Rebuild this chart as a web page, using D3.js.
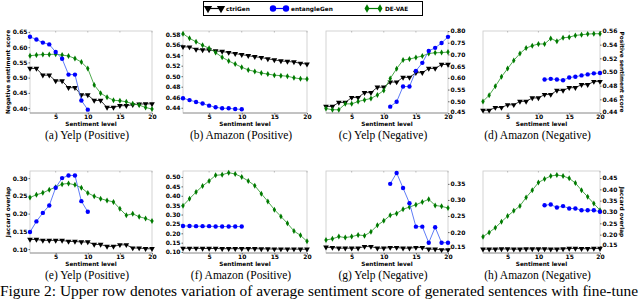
<!DOCTYPE html>
<html>
<head>
<meta charset="utf-8">
<script src="https://cdn.jsdelivr.net/npm/d3@7"></script>
<style>
body { margin: 0; background: #fff; }
svg { display: block; }
.tk text { font-family: "DejaVu Sans", sans-serif; font-weight: bold; font-size: 6px; fill: #000; }
.lab { font-family: "DejaVu Sans", sans-serif; font-weight: bold; font-size: 5.8px; }
.cap { font-family: "Liberation Serif", serif; }
</style>
</head>
<body>
<div id="chart"></div>
<script>
// sentiment levels on the x axis
var levels = [1, 2, 3, 4, 5, 6, 7, 8, 9, 10, 11, 12, 13, 14, 15, 16, 17, 18, 19, 20];
var lowLevels = [1, 2, 3, 4, 5, 6, 7, 8, 9, 10];
var highLevels = [11, 12, 13, 14, 15, 16, 17, 18, 19, 20];
var xTicks = [5, 10, 15, 20];

// (a) Yelp (Positive) - negative sentiment score
var aCtrl = [0.530, 0.530, 0.508, 0.508, 0.489, 0.489, 0.467, 0.467, 0.443, 0.443, 0.425, 0.425, 0.402, 0.402, 0.408, 0.408, 0.411, 0.413, 0.414, 0.414];
var aEnt = [0.634, 0.625, 0.615, 0.609, 0.584, 0.562, 0.510, 0.510, 0.425, 0.395];
var aVae = [0.572, 0.574, 0.576, 0.576, 0.577, 0.574, 0.571, 0.563, 0.551, 0.530, 0.476, 0.449, 0.436, 0.426, 0.424, 0.421, 0.414, 0.410, 0.402, 0.397];
// (b) Amazon (Positive)
var bCtrl = [0.556, 0.5555, 0.551, 0.550, 0.550, 0.548, 0.547, 0.545, 0.543, 0.541, 0.539, 0.537, 0.5355, 0.533, 0.531, 0.529, 0.528, 0.527, 0.5245, 0.523];
var bEnt = [0.458, 0.4545, 0.451, 0.448, 0.444, 0.441, 0.439, 0.439, 0.4375, 0.437];
var bVae = [0.581, 0.572, 0.5655, 0.559, 0.553, 0.545, 0.536, 0.529, 0.523, 0.517, 0.512, 0.509, 0.506, 0.504, 0.502, 0.501, 0.500, 0.497, 0.495, 0.4945];
// (c) Yelp (Negative) - positive sentiment score
var cCtrl = [0.478, 0.478, 0.495, 0.495, 0.516, 0.516, 0.537, 0.537, 0.560, 0.560, 0.582, 0.582, 0.602, 0.602, 0.622, 0.622, 0.640, 0.640, 0.657, 0.657];
var cEnt = [0.477, 0.498, 0.563, 0.563, 0.630, 0.664, 0.715, 0.728, 0.749, 0.775];
var cVae = [0.469, 0.464, 0.464, 0.489, 0.489, 0.499, 0.506, 0.512, 0.527, 0.546, 0.597, 0.639, 0.676, 0.680, 0.687, 0.693, 0.704, 0.707, 0.708, 0.710];
// (d) Amazon (Negative)
var dCtrl = [0.444, 0.444, 0.448, 0.448, 0.452, 0.452, 0.457, 0.457, 0.462, 0.462, 0.467, 0.467, 0.473, 0.473, 0.477, 0.477, 0.4815, 0.4815, 0.486, 0.486];
var dEnt = [0.489, 0.490, 0.489, 0.488, 0.492, 0.493, 0.495, 0.4965, 0.498, 0.4985];
var dVae = [0.457, 0.466, 0.479, 0.493, 0.505, 0.517, 0.527, 0.535, 0.5385, 0.541, 0.541, 0.549, 0.545, 0.550, 0.551, 0.5535, 0.5545, 0.5555, 0.556, 0.556];
// (e) Yelp (Positive) - jaccard overlap
var eCtrl = [0.127, 0.127, 0.1245, 0.1245, 0.1245, 0.1245, 0.1215, 0.1215, 0.120, 0.120, 0.113, 0.113, 0.1075, 0.1075, 0.112, 0.112, 0.103, 0.103, 0.101, 0.101];
var eEnt = [0.148, 0.178, 0.202, 0.223, 0.273, 0.300, 0.3075, 0.3075, 0.235, 0.205];
var eVae = [0.2455, 0.253, 0.2585, 0.267, 0.2745, 0.283, 0.285, 0.281, 0.273, 0.258, 0.249, 0.242, 0.237, 0.233, 0.2135, 0.195, 0.1995, 0.191, 0.1865, 0.179];
// (f) Amazon (Positive)
var fCtrl = [0.120, 0.120, 0.120, 0.119, 0.119, 0.119, 0.118, 0.118, 0.118, 0.118, 0.118, 0.118, 0.117, 0.117, 0.116, 0.116, 0.116, 0.116, 0.115, 0.115];
var fEnt = [0.239, 0.239, 0.238, 0.238, 0.238, 0.236, 0.236, 0.236, 0.236, 0.236];
var fVae = [0.347, 0.384, 0.420, 0.452, 0.479, 0.509, 0.512, 0.523, 0.516, 0.500, 0.479, 0.454, 0.411, 0.370, 0.326, 0.290, 0.253, 0.212, 0.189, 0.157];
// (g) Yelp (Negative)
var gCtrl = [0.153, 0.152, 0.150, 0.150, 0.150, 0.150, 0.155, 0.155, 0.150, 0.150, 0.152, 0.152, 0.150, 0.150, 0.152, 0.152, 0.147, 0.147, 0.145, 0.145];
var gEnt = [0.350, 0.384, 0.337, 0.290, 0.217, 0.217, 0.167, 0.215, 0.167, 0.167];
var gVae = [0.1755, 0.179, 0.186, 0.183, 0.186, 0.191, 0.189, 0.201, 0.221, 0.235, 0.2525, 0.258, 0.271, 0.278, 0.285, 0.2935, 0.302, 0.283, 0.280, 0.275];
// (h) Amazon (Negative)
var hCtrl = [0.136, 0.136, 0.136, 0.137, 0.137, 0.136, 0.136, 0.137, 0.137, 0.137, 0.137, 0.136, 0.136, 0.137, 0.139, 0.139, 0.138, 0.138, 0.139, 0.139];
var hEnt = [0.330, 0.333, 0.320, 0.326, 0.3155, 0.3155, 0.308, 0.308, 0.308, 0.301];
var hVae = [0.191, 0.210, 0.2305, 0.257, 0.282, 0.305, 0.327, 0.364, 0.396, 0.430, 0.4455, 0.459, 0.463, 0.459, 0.4485, 0.428, 0.396, 0.367, 0.337, 0.308];

var seriesNames = ["ctriGen", "entangleGen", "DE-VAE"];
var captions = ["(a) Yelp (Positive)", "(b) Amazon (Positive)", "(c) Yelp (Negative)", "(d) Amazon (Negative)",
                "(e) Yelp (Positive)", "(f) Amazon (Positive)", "(g) Yelp (Negative)", "(h) Amazon (Negative)"];
var figCaption = "Figure 2: Upper row denotes variation of average sentiment score of generated sentences with fine-tune";

var W = 640, H = 299;
var cols = [[30, 152], [183, 307], [326, 448], [483, 600]];
var rows = [[31, 113], [171, 253]];

var panels = [
    {col: 0, row: 0, dom: [0.384, 0.653], ticks: [0.40, 0.45, 0.50, 0.55, 0.60, 0.65], side: "left", ylabel: "Negative sentiment score", ctrl: aCtrl, ent: aEnt, entX: lowLevels, vae: aVae},
    {col: 1, row: 0, dom: [0.430, 0.586], ticks: [0.44, 0.46, 0.48, 0.50, 0.52, 0.54, 0.56, 0.58], side: "left", ctrl: bCtrl, ent: bEnt, entX: lowLevels, vae: bVae},
    {col: 2, row: 0, dom: [0.45, 0.80], ticks: [0.45, 0.50, 0.55, 0.60, 0.65, 0.70, 0.75, 0.80], side: "right", ctrl: cCtrl, ent: cEnt, entX: highLevels, vae: cVae},
    {col: 3, row: 0, dom: [0.44, 0.56], ticks: [0.44, 0.46, 0.48, 0.50, 0.52, 0.54, 0.56], side: "right", ylabel: "Positive sentiment score", ctrl: dCtrl, ent: dEnt, entX: highLevels, vae: dVae},
    {col: 0, row: 1, dom: [0.089, 0.32], ticks: [0.10, 0.15, 0.20, 0.25, 0.30], side: "left", ylabel: "Jaccard overlap", ctrl: eCtrl, ent: eEnt, entX: lowLevels, vae: eVae},
    {col: 1, row: 1, dom: [0.095, 0.532], ticks: [0.10, 0.15, 0.20, 0.25, 0.30, 0.35, 0.40, 0.45, 0.50], side: "left", ctrl: fCtrl, ent: fEnt, entX: lowLevels, vae: fVae},
    {col: 2, row: 1, dom: [0.135, 0.39], ticks: [0.15, 0.20, 0.25, 0.30, 0.35], side: "right", ctrl: gCtrl, ent: gEnt, entX: highLevels, vae: gVae},
    {col: 3, row: 1, dom: [0.119, 0.481], ticks: [0.15, 0.20, 0.25, 0.30, 0.35, 0.40, 0.45], side: "right", ylabel: "Jaccard overlap", ctrl: hCtrl, ent: hEnt, entX: highLevels, vae: hVae}
];

var svg = d3.select("#chart").append("svg")
    .attr("width", W)
    .attr("height", H);

// marker shapes
var triDown = d3.symbol().type(d3.symbolTriangle);
function diamond(s) { return "M0," + (-3 * s) + "L" + (1.7 * s) + ",0L0," + (3 * s) + "L" + (-1.7 * s) + ",0Z"; }

function drawMarkers(g, pts, kind, s) {
    var m = g.selectAll(null).data(pts).enter();
    if (kind === 0) {
        m.append("path")
            .attr("d", triDown.size(14 * s * s)())
            .attr("transform", function(d) { return "translate(" + d[0] + "," + d[1] + ") rotate(180)"; })
            .attr("fill", "#000");
    } else if (kind === 1) {
        m.append("circle")
            .attr("cx", function(d) { return d[0]; })
            .attr("cy", function(d) { return d[1]; })
            .attr("r", 2.2 * s)
            .attr("fill", "#0000ff");
    } else {
        m.append("path")
            .attr("d", diamond(s))
            .attr("transform", function(d) { return "translate(" + d[0] + "," + d[1] + ")"; })
            .attr("fill", "#007a00");
    }
}

var lineColors = ["#222", "#4d6df5", "#3aa03a"];

panels.forEach(function(p, i) {
    var xr = cols[p.col], yr = rows[p.row];
    var x = d3.scaleLinear().domain([1, 20]).range(xr);
    var y = d3.scaleLinear().domain(p.dom).range([yr[1], yr[0]]);
    var g = svg.append("g");

    // frame
    g.append("rect")
        .attr("x", xr[0]).attr("y", yr[0])
        .attr("width", xr[1] - xr[0]).attr("height", yr[1] - yr[0])
        .attr("fill", "none").attr("stroke", "#c8c8c8").attr("stroke-width", 0.8);
    g.append("line")
        .attr("x1", xr[0]).attr("x2", xr[1]).attr("y1", yr[1]).attr("y2", yr[1])
        .attr("stroke", "#888").attr("stroke-width", 0.8);

    // top faint ticks
    g.selectAll(null).data(xTicks).enter().append("line")
        .attr("x1", function(d) { return x(d); }).attr("x2", function(d) { return x(d); })
        .attr("y1", yr[0]).attr("y2", yr[0] + 1.5)
        .attr("stroke", "#aaa").attr("stroke-width", 0.8);

    var xa = g.append("g").attr("class", "tk")
        .attr("transform", "translate(0," + yr[1] + ")")
        .call(d3.axisBottom(x).tickValues(xTicks).tickSize(1.5).tickPadding(0.5).tickFormat(d3.format("d")));
    xa.select(".domain").remove();
    xa.selectAll("line").attr("stroke", "#666");

    var yAxis = p.side === "left" ? d3.axisLeft(y) : d3.axisRight(y);
    var ya = g.append("g").attr("class", "tk")
        .attr("transform", "translate(" + (p.side === "left" ? xr[0] : xr[1]) + ",0)")
        .call(yAxis.tickValues(p.ticks).tickSize(1.5).tickPadding(1).tickFormat(d3.format(".2f")));
    ya.select(".domain").remove();
    ya.selectAll("line").attr("stroke", "#666");
    // lowest right-hand label sits just above the "20" tick label
    if (p.side === "right") {
        ya.selectAll(".tick text").filter(function(d, k) { return k === 0; }).attr("dy", "0.1em");
    }

    g.append("text").attr("class", "lab")
        .attr("x", (xr[0] + xr[1]) / 2).attr("y", yr[1] + 12.5)
        .attr("text-anchor", "middle")
        .text("Sentiment level");

    if (p.ylabel) {
        var lx = p.side === "left" ? xr[0] - 22 : xr[1] + 22;
        g.append("text").attr("class", "lab")
            .attr("transform", "translate(" + lx + "," + (yr[0] + yr[1]) / 2 + ") rotate(" + (p.side === "left" ? -90 : 90) + ")")
            .attr("text-anchor", "middle")
            .attr("dy", "0.35em")
            .text(p.ylabel);
    }

    var sets = [
        levels.map(function(l, k) { return [x(l), y(p.ctrl[k])]; }),
        p.entX.map(function(l, k) { return [x(l), y(p.ent[k])]; }),
        levels.map(function(l, k) { return [x(l), y(p.vae[k])]; })
    ];
    var clipId = "clip" + i;
    g.append("clipPath").attr("id", clipId).append("rect")
        .attr("x", xr[0] - 3).attr("y", yr[0] - 3)
        .attr("width", xr[1] - xr[0] + 6).attr("height", yr[1] - yr[0] + 6);
    var pg = g.append("g").attr("clip-path", "url(#" + clipId + ")");
    [0, 2, 1].forEach(function(k) {
        pg.append("path")
            .attr("d", d3.line()(sets[k]))
            .attr("fill", "none")
            .attr("stroke", lineColors[k])
            .attr("stroke-width", 0.9);
        drawMarkers(pg, sets[k], k, 1);
    });

    svg.append("text").attr("class", "cap")
        .attr("x", (xr[0] + xr[1]) / 2 - 4)
        .attr("y", p.row === 0 ? 139 : 279)
        .attr("text-anchor", "middle")
        .attr("font-size", 11.5)
        .text(captions[i]);
});

// legend
var lg = svg.append("g");
lg.append("rect").attr("x", 203.5).attr("y", 1.5).attr("width", 219).attr("height", 14)
    .attr("fill", "#fff").attr("stroke", "#000").attr("stroke-width", 1);
var legX = [208, 273, 367];
seriesNames.forEach(function(name, k) {
    var x0 = legX[k], x1 = x0 + 13, yy = 8.5;
    lg.append("line").attr("x1", x0).attr("x2", x1).attr("y1", yy).attr("y2", yy)
        .attr("stroke", k === 1 ? "#0000ff" : (k === 2 ? "#007a00" : "#000")).attr("stroke-width", 1.2);
    drawMarkers(lg, [[x0, yy], [x1, yy]], k, 1.45);
    lg.append("text").attr("class", "lab")
        .attr("x", x1 + 5).attr("y", yy).attr("dy", "0.35em")
        .attr("font-size", 7.5)
        .text(name);
});

svg.append("text").attr("class", "cap")
    .attr("x", 0).attr("y", 296)
    .attr("font-size", 15)
    .attr("textLength", 638)
    .attr("lengthAdjust", "spacingAndGlyphs")
    .text(figCaption);
</script>
</body>
</html>
